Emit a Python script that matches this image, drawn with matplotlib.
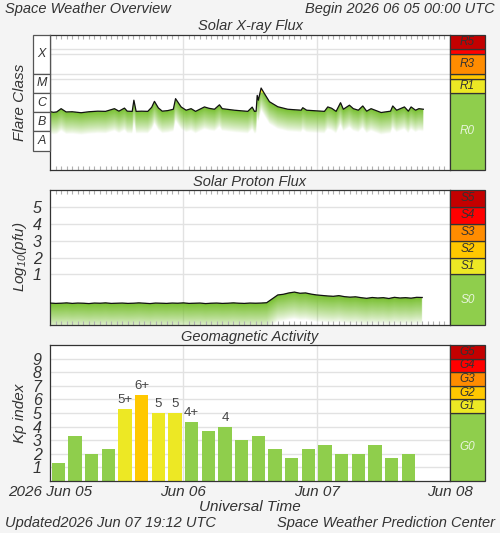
import numpy as np
import matplotlib
matplotlib.use('Agg')
import matplotlib.pyplot as plt
from matplotlib.patches import Rectangle
from matplotlib.colors import to_rgb

plt.rcParams['font.family'] = ['Liberation Sans', 'DejaVu Sans']
plt.rcParams['mathtext.fontset'] = 'custom'
plt.rcParams['mathtext.rm'] = 'Liberation Sans'
plt.rcParams['mathtext.it'] = 'Liberation Sans:italic'

# ---------------- data ----------------
xray_hours = [0.0, 0.6, 1.2, 2.0, 2.9, 4.0, 5.6, 7.0, 8.6, 10.0,
              11.6, 12.4, 13.4, 13.9, 14.8, 15.1, 15.5, 16.5, 17.6, 18.3,
              18.8, 19.5, 20.2, 21.2, 22.2, 22.6, 23.6, 24.5, 25.4, 26.2,
              27.8, 28.6, 29.6, 30.5, 31.0, 33.2, 35.6, 36.4, 36.8, 37.1,
              37.3, 37.5, 38.0, 38.6, 39.5, 41.0, 42.8, 45.2, 45.5, 46.2,
              49.4, 50.0, 50.7, 51.5, 52.3, 52.8, 53.9, 54.6, 55.5, 56.3,
              57.0, 57.8, 59.6, 61.3, 61.7, 62.4, 63.8, 64.5, 65.0, 65.8,
              66.4, 67.2]
xray_log_flux = [-5.97, -6.01, -5.99, -5.82, -5.99, -5.98, -6.03, -5.98, -5.95, -5.96,
                 -5.82, -5.95, -5.79, -5.95, -5.96, -5.38, -5.96, -5.95, -5.96, -5.75,
                 -5.44, -5.78, -5.95, -5.92, -5.85, -5.30, -5.73, -5.90, -5.82, -5.96,
                 -5.73, -5.80, -5.85, -5.62, -5.82, -5.90, -5.96, -5.74, -5.96, -5.95,
                 -5.13, -5.38, -4.75, -5.04, -5.46, -5.72, -5.85, -5.90, -5.77, -5.90,
                 -5.96, -5.73, -5.80, -5.96, -5.51, -5.85, -5.64, -5.82, -5.90, -5.68,
                 -5.95, -5.82, -6.02, -5.95, -5.68, -5.90, -5.73, -5.95, -5.73, -5.90,
                 -5.82, -5.85]

proton_hours = list(range(68))
proton_log_pfu = [-0.70, -0.72, -0.71, -0.69, -0.72, -0.70, -0.71, -0.73, -0.70, -0.71,
                  -0.69, -0.72, -0.71, -0.70, -0.72, -0.71, -0.69, -0.71, -0.73, -0.70,
                  -0.71, -0.72, -0.70, -0.71, -0.69, -0.72, -0.71, -0.70, -0.73, -0.71,
                  -0.70, -0.72, -0.71, -0.69, -0.71, -0.72, -0.70, -0.71, -0.70, -0.68,
                  -0.45, -0.22, -0.18, -0.10, -0.05, -0.12, -0.10, -0.17, -0.22, -0.25,
                  -0.28, -0.30, -0.26, -0.32, -0.35, -0.33, -0.38, -0.42, -0.37, -0.40,
                  -0.38, -0.43, -0.36, -0.40, -0.38, -0.41, -0.36, -0.37]

kp_values = [1.33, 3.33, 2.0, 2.33, 5.33, 6.33, 5.0, 5.0, 4.33, 3.67, 4.0,
             3.0, 3.33, 2.33, 1.67, 2.33, 2.67, 2.0, 2.0, 2.67, 1.67, 2.0]
kp_labels = ["", "", "", "", "5+", "6+", "5", "5", "4+", "", "4",
             "", "", "", "", "", "", "", "", "", "", ""]

day_ticks = [0, 24, 48, 72]
day_labels = ["2026 Jun 05", "Jun 06", "Jun 07", "Jun 08"]

flare_classes = ["X", "M", "C", "B", "A"]
flare_class_bounds = [(-4, -2), (-5, -4), (-6, -5), (-7, -6), (-8, -7)]

r_scale = [("R0", -9, -5), ("R1", -5, -4.3), ("R2", -4.3, -4), ("R3", -4, -3), ("R4", -3, -2.7), ("R5", -2.7, -2)]
s_scale = [("S0", -2, 1), ("S1", 1, 2), ("S2", 2, 3), ("S3", 3, 4), ("S4", 4, 5), ("S5", 5, 6)]
g_scale = [("G0", 0, 5), ("G1", 5, 6), ("G2", 6, 7), ("G3", 7, 8), ("G4", 8, 9), ("G5", 9, 10)]
scale_labels_shown = {"R0", "R1", "R3", "R5", "S0", "S1", "S2", "S3", "S4", "S5",
                      "G0", "G1", "G2", "G3", "G4", "G5"}

# ---------------- style ----------------
BG = '#f4f4f4'
GRID = '#e2e2e2'
FRAME = '#333333'
TXT = '#333333'
level_colors = ['#8fce4c', '#ede824', '#ffc800', '#ff8c00', '#ff0000', '#c40000']
GREEN_FILL = np.array(to_rgb('#78c030'))
YELLOW_FILL = np.array(to_rgb('#f2e418'))

W, H = 500, 533
fig = plt.figure(figsize=(W / 100, H / 100), dpi=100, facecolor=BG)


def fa(x0, y0, x1, y1):
    return [x0 / W, 1 - y1 / H, (x1 - x0) / W, (y1 - y0) / H]


def ftext(x, y, s, **kw):
    kw.setdefault('color', TXT)
    kw.setdefault('fontsize', 10.5)
    kw.setdefault('style', 'italic')
    fig.text(x / W, 1 - y / H, s, **kw)


def gradient_fill(ax, t, v, ymin, ymax, depth, yellow_above=None):
    nx, ny = 1200, 400
    tx = np.linspace(0, 72, nx)
    ys = np.linspace(ymin, ymax, ny)
    line = np.interp(tx, t, v, left=np.nan, right=np.nan)
    Y = ys[:, None] * np.ones((1, nx))
    d = line[None, :] - Y
    alpha = np.clip(1 - d / depth, 0, 1) ** 0.8
    alpha[~(d >= 0)] = 0
    rgba = np.zeros((ny, nx, 4))
    rgba[..., :3] = GREEN_FILL
    if yellow_above is not None:
        mask = Y > yellow_above
        rgba[mask, :3] = YELLOW_FILL
    rgba[..., 3] = alpha
    ax.imshow(rgba, extent=[0, 72, ymin, ymax], origin='lower', aspect='auto',
              interpolation='bilinear', zorder=1)


def style_panel(ax, ylim, hlines, hour_ticks=True):
    ax.set_facecolor('white')
    ax.set_xlim(0, 72)
    ax.set_ylim(*ylim)
    for s in ax.spines.values():
        s.set_color(FRAME)
        s.set_linewidth(0.9)
    for h in hlines:
        ax.axhline(h, color=GRID, lw=1.0, zorder=0.5)
    for d in day_ticks[1:3]:
        ax.axvline(d, color=GRID, lw=1.0, zorder=0.5)
    ax.set_xticks(day_ticks)
    ax.tick_params(axis='x', which='major', length=0)
    if hour_ticks:
        ax.set_xticks(np.arange(1, 72, 1), minor=True)
        ax.tick_params(axis='x', which='minor', direction='in', length=3,
                       color='#b0b0b0', width=0.8, top=True, bottom=True)


def scale_bar(rect, ylim, scale):
    sa = fig.add_axes(rect)
    sa.set_xlim(0, 1)
    sa.set_ylim(*ylim)
    sa.axis('off')
    for i, (lab, lo, hi) in enumerate(scale):
        sa.add_patch(Rectangle((0, lo), 1, hi - lo, facecolor=level_colors[i],
                               edgecolor=FRAME, lw=0.9, clip_on=False))
        if lab in scale_labels_shown:
            col = '#e8f5dc' if i == 0 else '#333333'
            sa.text(0.5, (lo + hi) / 2, lab, ha='center', va='center', style='italic',
                    fontsize=8.5, color=col)
    return sa


# ---------------- X-ray panel ----------------
xlim1 = (-9, -2)
ax1 = fig.add_axes(fa(50, 35, 450, 170))
style_panel(ax1, xlim1, [-2.7, -3, -4, -4.3, -5])
gradient_fill(ax1, xray_hours, xray_log_flux, xlim1[0], xlim1[1], 1.15, yellow_above=-5.0)
ax1.plot(xray_hours, xray_log_flux, color='#111111', lw=0.9, zorder=3)
ax1.set_xlim(0, 72)
ax1.set_ylim(*xlim1)
ax1.set_yticks([])
ax1.set_xticklabels([])
scale_bar(fa(450, 35, 485, 170), xlim1, r_scale)

ca = fig.add_axes(fa(33, 35, 50, 170))
ca.set_xlim(0, 1)
ca.set_ylim(*xlim1)
ca.axis('off')
for lab, (lo, hi) in zip(flare_classes, flare_class_bounds):
    ca.add_patch(Rectangle((0, lo), 1, hi - lo, facecolor='white', edgecolor='#555555',
                           lw=0.9, clip_on=False))
    ca.text(0.5, (lo + hi) / 2, lab, ha='center', va='center', style='italic',
            fontsize=9, color=TXT)

# ---------------- Proton panel ----------------
plim = (-2, 6)
ax2 = fig.add_axes(fa(50, 190, 450, 325))
style_panel(ax2, plim, [1, 2, 3, 4, 5])
gradient_fill(ax2, proton_hours, proton_log_pfu, plim[0], plim[1], 1.6)
ax2.plot(proton_hours, proton_log_pfu, color='#111111', lw=0.9, zorder=3)
ax2.set_xlim(0, 72)
ax2.set_ylim(*plim)
ax2.set_yticks([1, 2, 3, 4, 5])
ax2.set_yticklabels(['1', '2', '3', '4', '5'], fontsize=11.5, style='italic', color=TXT)
ax2.tick_params(axis='y', length=0, pad=6)
ax2.set_xticklabels([])
scale_bar(fa(450, 190, 485, 325), plim, s_scale)

# ---------------- Kp panel ----------------
klim = (0, 10)
ax3 = fig.add_axes(fa(50, 345, 450, 481))
style_panel(ax3, klim, range(1, 10), hour_ticks=False)
kp_x = [1.5 + 3 * i for i in range(len(kp_values))]
kp_cols = [level_colors[0] if v < 5 else (level_colors[1] if v < 6 else level_colors[2])
           for v in kp_values]
ax3.bar(kp_x, kp_values, width=2.4, color=kp_cols, zorder=2)
for x, v, lab in zip(kp_x, kp_values, kp_labels):
    if lab:
        ax3.text(x, v + 0.2, lab, ha='center', va='bottom', fontsize=9.5, color='#444444')
ax3.set_yticks(range(1, 10))
ax3.set_yticklabels([str(i) for i in range(1, 10)], fontsize=11.5, style='italic', color=TXT)
ax3.tick_params(axis='y', length=0, pad=6)
ax3.set_xticklabels(day_labels, fontsize=11, style='italic', color=TXT)
ax3.tick_params(axis='x', pad=3)
scale_bar(fa(450, 345, 485, 481), klim, g_scale)

# ---------------- texts ----------------
ftext(5, 9, "Space Weather Overview", ha='left', va='center')
ftext(495, 9, "Begin 2026 06 05 00:00 UTC", ha='right', va='center')
ftext(250, 26, "Solar X-ray Flux", ha='center', va='center')
ftext(250, 182, "Solar Proton Flux", ha='center', va='center')
ftext(250, 337, "Geomagnetic Activity", ha='center', va='center')
ftext(20, 102, "Flare Class", ha='center', va='center', rotation=90, fontsize=11)
ftext(20, 257, r"Log$_{\mathregular{10}}$(pfu)", ha='center', va='center', rotation=90, fontsize=11)
ftext(20, 413, "Kp index", ha='center', va='center', rotation=90, fontsize=11)
ftext(250, 507, "Universal Time", ha='center', va='center', fontsize=11)
ftext(5, 523, "Updated2026 Jun 07 19:12 UTC", ha='left', va='center')
ftext(495, 523, "Space Weather Prediction Center", ha='right', va='center')

fig.savefig('out.png', dpi=100, facecolor=BG)
